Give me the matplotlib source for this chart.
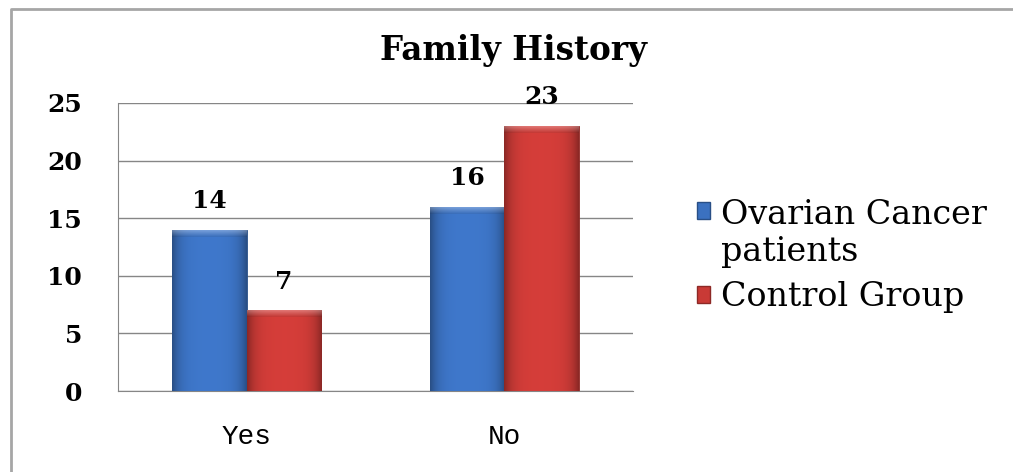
import numpy as np
import matplotlib.pyplot as plt
from matplotlib.colors import to_rgb
from matplotlib.lines import Line2D
from matplotlib.patches import Patch, Rectangle
from matplotlib.legend_handler import HandlerPatch

categories = ['Yes', 'No']
series_names = ['Ovarian Cancer\npatients', 'Control Group']
ovarian = [14, 16]
control = [7, 23]
colors = ['#3b71c0', '#c93a36']
yticks = [0, 5, 10, 15, 20, 25]


def shade(ax, bar, color):
    # fake the bevelled 3-D look: darker sides, lighter top strip
    x0, y0 = bar.get_x(), bar.get_y()
    x1, y1 = x0 + bar.get_width(), y0 + bar.get_height()
    base = np.array(to_rgb(color))
    t = np.linspace(-1, 1, 64)
    k = 1 - 0.30 * np.abs(t) ** 5 + 0.06 * (1 - t ** 2)
    img = np.clip(base[None, None, :] * k[None, :, None], 0, 1)
    im = ax.imshow(img, extent=(x0, x1, y0, y1), aspect='auto', zorder=3,
                   interpolation='bilinear')
    im.set_clip_path(bar)
    bev = 0.6
    s = np.linspace(0, 1, 16)[:, None, None]
    top = img + (1 - img) * 0.30 * (1 - s)
    top = np.clip(top * (1 - 0.08 * s), 0, 1)
    im2 = ax.imshow(top, extent=(x0, x1, y1 - bev, y1),
                    aspect='auto', zorder=3, interpolation='bilinear')
    im2.set_clip_path(bar)


def first_line_square(legend, orig_handle, xdescent, ydescent, width, height, fontsize):
    # put the key square next to the first line of a wrapped label
    n = orig_handle.get_label().count('\n')
    return Rectangle((-xdescent, -ydescent + n * 17), width, height)


fig = plt.figure(figsize=(10.13, 4.72), dpi=100)
ax = fig.add_axes([0.1165, 0.1716, 0.5085, 0.6104])

x = np.arange(len(categories))
w = 0.29
for vals, off, col in [(ovarian, -w / 2, colors[0]), (control, w / 2, colors[1])]:
    bars = ax.bar(x + off, vals, w, color=col, zorder=2,
                  edgecolor=np.array(to_rgb(col)) * 0.7, linewidth=0.6)
    for b, v in zip(bars, vals):
        shade(ax, b, col)
        ax.annotate(str(v), (b.get_x() + b.get_width() / 2, v),
                    xytext=(0, 12), textcoords='offset points',
                    ha='center', va='bottom', fontsize=18,
                    fontfamily='DejaVu Serif', fontweight='bold', zorder=5)

ax.set_xlim(-0.5, 1.5)
ax.set_ylim(0, 25)
ax.set_axisbelow(True)
ax.grid(axis='y', color='#868686', linewidth=1)
for side in ['top', 'right']:
    ax.spines[side].set_visible(False)
for side in ['left', 'bottom']:
    ax.spines[side].set_color('#868686')
ax.set_xticks(x, categories, fontfamily='Liberation Mono', fontsize=20)
ax.set_yticks(yticks, [str(v) for v in yticks], fontfamily='DejaVu Serif',
              fontweight='bold', fontsize=18)
ax.tick_params(axis='x', length=0, pad=24)
ax.tick_params(axis='y', length=0, pad=26)

fig.text(0.507, 0.894, 'Family History', ha='center', va='center',
         fontfamily='DejaVu Serif', fontweight='bold', fontsize=23.5)

handles = [Patch(facecolor=c, edgecolor=np.array(to_rgb(c)) * 0.7, label=lab)
           for c, lab in zip(colors, series_names)]
leg = fig.legend(handles=handles, loc='center left',
                 bbox_to_anchor=(697 / 1013, 0.457), frameon=False,
                 borderpad=0, borderaxespad=0,
                 prop={'family': 'DejaVu Serif', 'size': 24},
                 handlelength=0.4, handleheight=0.4, handletextpad=0.33,
                 labelspacing=0.4,
                 handler_map={Patch: HandlerPatch(patch_func=first_line_square)})
for t in leg.get_texts():
    t.set_linespacing(1.2)

# light grey frame along the left and top edges
fig.add_artist(Line2D([11 / 1013, 11 / 1013, 1], [0, 1 - 9 / 472, 1 - 9 / 472],
                      transform=fig.transFigure, color='#a6a6a6', linewidth=2))

fig.savefig('out.png', dpi=100)
